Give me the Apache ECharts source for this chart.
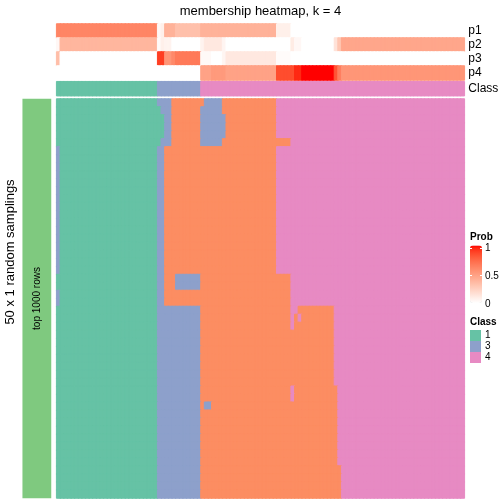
<!DOCTYPE html>
<html><head><meta charset="utf-8">
<script src="https://cdn.jsdelivr.net/npm/echarts@6/dist/echarts.min.js"></script>
<style>html,body{margin:0;padding:0;background:#fff}#c{width:504px;height:504px}</style>
</head><body><div id="c"></div>
<script>
// ---------------- data ----------------
const annotLabels = ['p1','p2','p3','p4'];
const classLegend = [1, 3, 4];
const probTicks = ['1', '0.5', '0'];

const colClass = [
1,1,1,1,1,1,1,1,1,1, 1,1,1,1,1,1,1,1,1,1, 1,1,1,1,1,1,1,1,
3,3,3,3,3,3,3,3,3,3,3,3,
4,4,4,4,4,4,4,4,4,4, 4,4,4,4,4,4,4,4,4,4, 4,4,4,4,4,4,4,4,4,4,
4,4,4,4,4,4,4,4,4,4, 4,4,4,4,4,4,4,4,4,4, 4,4,4,4,4,4,4,4,4,4,
4,4,4,4,4,4,4,4,4,4, 4,4,4
];

const p1 = [
0.62,0.62,0.62,0.62,0.62,0.62,0.62,0.62,0.62,0.62,
0.62,0.62,0.62,0.62,0.62,0.62,0.62,0.62,0.62,0.62,
0.62,0.62,0.62,0.62,0.62,0.62,0.62,0.62,
0.04,0.08,
0.40,0.40,0.40,
0.33,0.33,0.33,0.33,0.33,0.33,0.33,
0.40,0.40,0.40,0.40,0.40,0.40,0.40,0.40,0.40,0.40,
0.40,0.40,0.40,0.40,0.40,0.40,0.40,0.40,0.40,0.40,0.40,
0.08,0.08,0.08,0.08,
0,0,0,0,0,0,0,0,0,0, 0,0,0,0,0,0,0,0,0,0,
0,0,0,0,0,0,0,0,0,0, 0,0,0,0,0,0,0,0,0,0,
0,0,0,0,0,0,0,0
];
const p2 = [
0.04,
0.38,0.38,0.38,0.38,0.38,0.38,0.38,0.38,0.38,0.38,
0.38,0.38,0.38,0.38,0.38,0.38,0.38,0.38,0.38,0.38,
0.38,0.38,0.38,0.38,0.38,0.38,0.38,
0.02,0.08,
0.06,0.06,
0,0,0,0,0,0,0,0,
0.06,
0.12,0.12,0.12,0.12,0.12,
0.05,
0,0,0,0,0,0,0,0,0,0, 0,0,0,0,0,0,0,0,
0.10,
0.04,0.04,
0,0,0,0,0,0,0,0,0,
0.15,0.30,
0.46,0.46,0.46,0.46,0.46,0.46,0.46,0.46,0.46,0.46,
0.46,0.46,0.46,0.46,0.46,0.46,0.46,0.46,0.46,0.46,
0.46,0.46,0.46,0.46,0.46,0.46,0.46,0.46,0.46,0.46,
0.46,0.46,0.46,0.46
];
const p3 = [
0.34,
0,0,0,0,0,0,0,0,0,0, 0,0,0,0,0,0,0,0,0,0, 0,0,0,0,0,0,0,
0.90,0.90,
0.54,0.54,
0.60,
0.67,0.67,0.67,0.67,0.67,0.67,0.67,
0.03,0.03,0.03,
0,0,0,
0.05,
0.12,0.12,0.12,0.12,0.12,0.12,0.12,0.12,0.12,0.12,0.12,0.12,0.12,0.12,
0.02,0.02,0.02,0.02,
0,0,0,0,0,0,0,0,0,0, 0,0,0,0,0,0,0,0,0,0,
0,0,0,0,0,0,0,0,0,0, 0,0,0,0,0,0,0,0,0,0,
0,0,0,0,0,0,0,0
];
const p4 = [
0,0,0,0,0,0,0,0,0,0, 0,0,0,0,0,0,0,0,0,0,
0,0,0,0,0,0,0,0,0,0, 0,0,0,0,0,0,0,0,0,0,
0.48,0.48,0.48,
0.52,0.52,0.52,0.52,
0.48,0.48,0.48,0.48,0.48,0.48,0.48,0.48,0.48,0.48,0.48,0.48,0.48,0.48,
0.85,0.85,0.85,0.85,0.85,
0.95,0.95,
1,1,1,1,1,1,1,1,1,
0.82,0.65,
0.54,0.54,0.54,0.54,0.54,0.54,0.54,0.54,0.54,0.54,
0.54,0.54,0.54,0.54,0.54,0.54,0.54,0.54,0.54,0.54,
0.54,0.54,0.54,0.54,0.54,0.54,0.54,0.54,0.54,0.54,
0.54,0.54,0.54,0.54
];

// body: 50 random samplings x 113 samples, class label runs per row [class, count]
const rowA  = [[1,28],[3,4],[2,9],[3,5],[2,15],[4,52]];
const rowB  = [[1,29],[3,3],[2,8],[3,6],[2,15],[4,52]];
const rowC  = [[1,30],[3,2],[2,8],[3,7],[2,14],[4,52]];
const rowD  = [[1,29],[3,3],[2,8],[3,6],[2,19],[4,48]];
const rowE  = [[3,1],[1,27],[3,2],[2,31],[4,52]];
const rowF  = [[1,28],[3,2],[2,3],[3,7],[2,25],[4,48]];
const rowG  = [[3,1],[1,27],[3,2],[2,35],[4,48]];
const rowH  = [[1,28],[3,12],[2,25],[4,2],[2,10],[4,36]];
const rowI  = [[1,28],[3,12],[2,25],[4,1],[2,1],[4,1],[2,9],[4,36]];
const rowJ  = [[1,28],[3,12],[2,25],[4,1],[2,11],[4,36]];
const rowK  = [[1,28],[3,12],[2,37],[4,36]];
const rowL  = [[1,28],[3,12],[2,25],[4,1],[2,12],[4,35]];
const rowM  = [[1,28],[3,12],[2,1],[3,2],[2,35],[4,35]];
const rowN  = [[1,28],[3,12],[2,38],[4,35]];
const rowO  = [[1,28],[3,12],[2,39],[4,34]];
const bodyRuns = [
rowA,rowB,rowC,rowC,rowC,rowD,
rowE,rowE,rowE,rowE,rowE,rowE,rowE,rowE,rowE,rowE,rowE,rowE,rowE,rowE,rowE,rowE,
rowF,rowF,rowG,rowG,rowH,rowI,rowJ,
rowK,rowK,rowK,rowK,rowK,rowK,rowK,
rowL,rowL,rowM,
rowN,rowN,rowN,rowN,rowN,rowN,rowN,
rowO,rowO,rowO,rowO
];
const leftAnno = [1];

// ---------------- styles ----------------
const FONT = '"Liberation Sans", Arial, Helvetica, sans-serif';
const classColors = {1:'#66C2A5', 2:'#FC8D62', 3:'#8DA0CB', 4:'#E78AC3'};
const leftColor = '#7FC97F';
const X0 = 56.67, W = 407.67;

// LAB interpolation white -> red (like colorRamp2)
function s2l(c){c/=255;return c<=0.04045?c/12.92:Math.pow((c+0.055)/1.055,2.4);}
function l2s(c){c=c<=0.0031308?12.92*c:1.055*Math.pow(c,1/2.4)-0.055;return Math.round(Math.max(0,Math.min(1,c))*255);}
function rgb2lab(rgb){const r=s2l(rgb[0]),g=s2l(rgb[1]),b=s2l(rgb[2]);
 const X=(0.4124*r+0.3576*g+0.1805*b)/0.95047,Y=(0.2126*r+0.7152*g+0.0722*b),Z=(0.0193*r+0.1192*g+0.9505*b)/1.08883;
 const f=t=>t>0.008856?Math.cbrt(t):(7.787*t+16/116);
 return [116*f(Y)-16,500*(f(X)-f(Y)),200*(f(Y)-f(Z))];}
function lab2rgb(lab){const fy=(lab[0]+16)/116,fx=fy+lab[1]/500,fz=fy-lab[2]/200;
 const fi=t=>t*t*t>0.008856?t*t*t:(t-16/116)/7.787;
 const X=fi(fx)*0.95047,Y=fi(fy),Z=fi(fz)*1.08883;
 const r=3.2406*X-1.5372*Y-0.4986*Z,g=-0.9689*X+1.8758*Y+0.0415*Z,b=0.0557*X-0.2040*Y+1.0570*Z;
 return 'rgb('+l2s(r)+','+l2s(g)+','+l2s(b)+')';}
const labW = rgb2lab([255,255,255]), labR = rgb2lab([255,0,0]);
const probColor = t => lab2rgb([0,1,2].map(k=>labW[k]+(labR[k]-labW[k])*t));
const probStops = [];
for (let i=0;i<=20;i++) probStops.push(probColor(i/20));

// ---------------- build series data ----------------
const N = colClass.length;
const cols = Array.from({length:N},(_,i)=>String(i));
const probs = [p1,p2,p3,p4];
const annotData = [];
probs.forEach((arr,r)=>arr.forEach((v,c)=>annotData.push({value:[c,r,v], itemStyle:{borderColor:probColor(v), borderWidth:1}})));
const classData = colClass.map((v,c)=>({value:[c,0,v], itemStyle:{borderColor:classColors[v], borderWidth:1}}));
const bodyData = [];
bodyRuns.forEach((runs,r)=>{let c=0;runs.forEach(([cl,n])=>{for(let k=0;k<n;k++){bodyData.push({value:[c,r,cl], itemStyle:{borderColor:classColors[cl], borderWidth:1}});c++;}});});
const rows = bodyRuns.map((_,i)=>String(i));

const chart = echarts.init(document.getElementById('c'), null, {renderer:'canvas'});
const hiddenAxis = (data, idx, extra) => Object.assign({type:'category', data, gridIndex:idx, show:false}, extra||{});
const txt = (x,y,text,font,extra) => Object.assign({type:'text', x, y, z:100,
  style:{text, font, fill:'#000', align:'left', verticalAlign:'middle'}}, extra||{});
const tick = (x1,x2,y) => ({type:'line', z:100, shape:{x1, y1:y, x2, y2:y}, style:{stroke:'#fff', lineWidth:1}});
chart.setOption({
  animation:false,
  backgroundColor:'#fff',
  grid:[
    {left:X0, top:24, width:W, height:56, outerBoundsMode:'none'},
    {left:X0, top:81.7, width:W, height:14, outerBoundsMode:'none'},
    {left:X0, top:99, width:W, height:399, outerBoundsMode:'none'},
    {left:22.7, top:99, width:28.3, height:399, outerBoundsMode:'none'}
  ],
  xAxis:[ hiddenAxis(cols,0), hiddenAxis(cols,1), hiddenAxis(cols,2), hiddenAxis(['a'],3) ],
  yAxis:[
    {type:'category', gridIndex:0, data:annotLabels, inverse:true, position:'right',
     axisLine:{show:false}, axisTick:{show:false}, splitLine:{show:false},
     axisLabel:{interval:0, margin:4, fontSize:12, color:'#000', fontFamily:FONT}},
    {type:'category', gridIndex:1, data:['Class'], position:'right',
     axisLine:{show:false}, axisTick:{show:false}, splitLine:{show:false},
     axisLabel:{interval:0, margin:4, fontSize:12, color:'#000', fontFamily:FONT}},
    hiddenAxis(rows,2,{inverse:true}),
    hiddenAxis(['a'],3)
  ],
  visualMap:[
    {type:'continuous', seriesIndex:0, min:0, max:1, calculable:false, show:true,
     orient:'vertical', left:470, top:245.5, itemWidth:12, itemHeight:57.5, padding:0,
     inRange:{color:probStops}, text:null, hoverLink:false},
    {type:'piecewise', seriesIndex:1, show:true, orient:'vertical', left:470, top:330,
     inverse:true, align:'left',
     itemWidth:11, itemHeight:11, itemGap:0, itemSymbol:'rect', textGap:4, padding:0,
     selectedMode:false, hoverLink:false,
     pieces:classLegend.map(v=>({value:v, label:String(v), color:classColors[v]})),
     textStyle:{fontSize:10, color:'#000', fontFamily:FONT}},
    {type:'piecewise', seriesIndex:2, show:false,
     pieces:[1,2,3,4].map(v=>({value:v, color:classColors[v]}))},
    {type:'piecewise', seriesIndex:3, show:false,
     pieces:[{value:1, color:leftColor}]}
  ],
  series:[
    {type:'heatmap', xAxisIndex:0, yAxisIndex:0, data:annotData, progressive:0, emphasis:{disabled:true}},
    {type:'heatmap', xAxisIndex:1, yAxisIndex:1, data:classData, progressive:0, emphasis:{disabled:true}},
    {type:'heatmap', xAxisIndex:2, yAxisIndex:2, data:bodyData, progressive:0, emphasis:{disabled:true}},
    {type:'heatmap', xAxisIndex:3, yAxisIndex:3, data:leftAnno.map(v=>[0,0,v]), progressive:0, emphasis:{disabled:true}, itemStyle:{borderWidth:0}}
  ],
  graphic:[
    txt(260.5, 11, 'membership heatmap, k = 4', '13px '+FONT, {style:{text:'membership heatmap, k = 4', font:'13px '+FONT, fill:'#000', align:'center', verticalAlign:'middle'}}),
    txt(10, 252, '50 x 1 random samplings', '13px '+FONT, {rotation:Math.PI/2, style:{text:'50 x 1 random samplings', font:'13px '+FONT, fill:'#000', align:'center', verticalAlign:'middle'}}),
    txt(37, 298.5, 'top 1000 rows', '10px '+FONT, {rotation:Math.PI/2, style:{text:'top 1000 rows', font:'10px '+FONT, fill:'#000', align:'center', verticalAlign:'middle'}}),
    txt(470, 237.5, 'Prob', 'bold 10px '+FONT),
    txt(485, 248, probTicks[0], '10px '+FONT),
    txt(485, 276, probTicks[1], '10px '+FONT),
    txt(485, 304, probTicks[2], '10px '+FONT),
    txt(470, 322.5, 'Class', 'bold 10px '+FONT),
    tick(470, 472, 248.5), tick(480, 482, 248.5),
    tick(470, 472, 275.5), tick(480, 482, 275.5)
  ]
});
</script></body></html>
